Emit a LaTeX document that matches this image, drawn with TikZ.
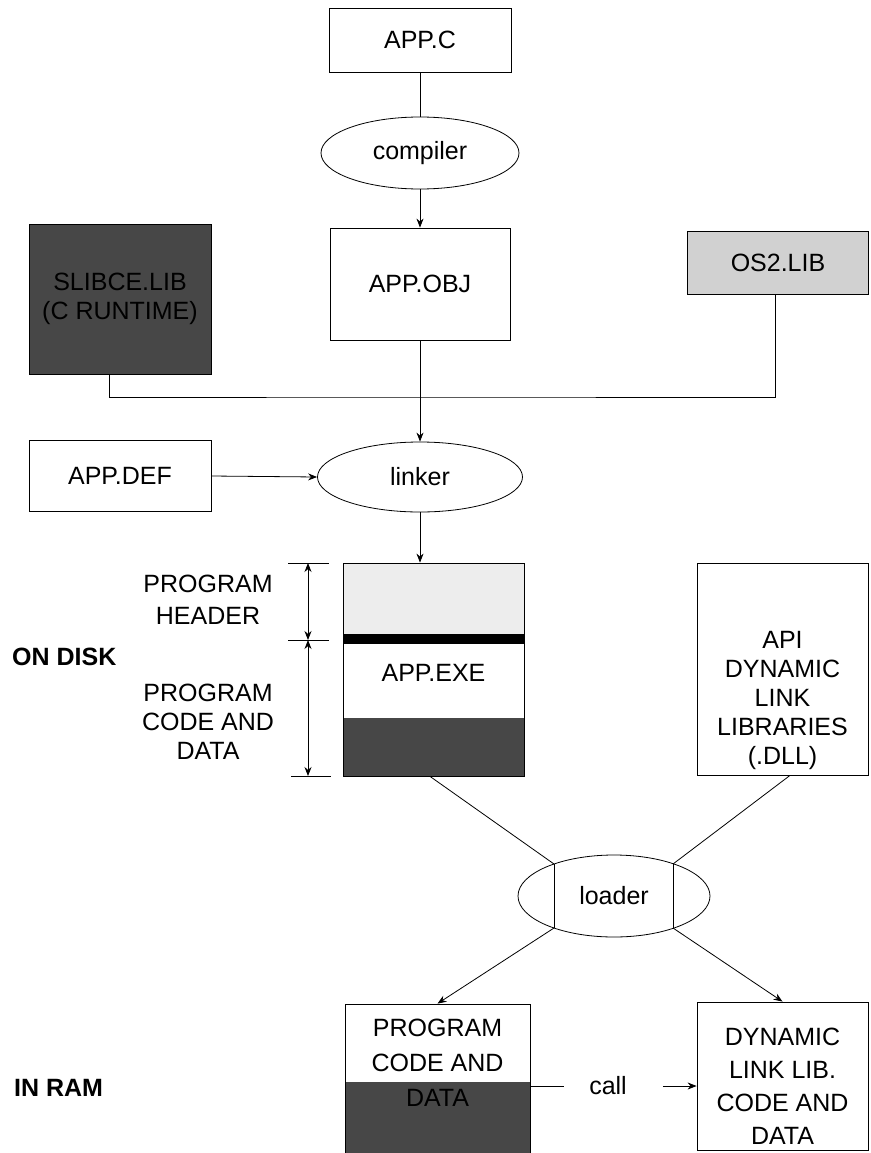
\documentclass[tikz,border=0pt]{standalone}
\usepackage{fontspec}
\setmainfont{Liberation Sans}
\usetikzlibrary{shapes.geometric,arrows.meta,calc}
\begin{document}
\begin{tikzpicture}[x=1pt,y=-1pt,
  every node/.style={font=\fontsize{25}{29}\selectfont},
  box/.style={draw,line width=0.8pt,rectangle,inner sep=0pt,align=center},
  proc/.style={draw,line width=0.8pt,ellipse,inner sep=0pt},
  conn/.style={line width=0.8pt},
  arr/.style={conn,-{Stealth[length=9pt,width=7pt]}},
  dimarr/.style={conn,{Stealth[length=9pt,width=7pt]}-{Stealth[length=9pt,width=7pt]}},
  lbl/.style={align=center,inner sep=0pt},
  side/.style={font=\fontsize{25}{29}\selectfont\bfseries,anchor=west,inner sep=0pt},
  darkfill/.style={fill=black!72},
  lightfill/.style={fill=black!18}]
\clip (0,0) rectangle (870,1153);
\fill[white] (0,0) rectangle (870,1153);

% compile stage
\node[box,minimum width=182,minimum height=64] (appc) at (420,40) {APP.C};
\node[proc,minimum width=198,minimum height=72] (compiler) at (420,153) {compiler};
\node[box,minimum width=180,minimum height=112] (appobj) at (420,284) {APP.OBJ};
\node[box,darkfill,minimum width=182,minimum height=150] (slibce) at (120,299) {SLIBCE.LIB\\(C RUNTIME)};
\node[box,lightfill,minimum width=181,minimum height=63] (os2) at (778,262.5) {OS2.LIB};

% link stage
\node[box,minimum width=182,minimum height=71] (appdef) at (120,476) {APP.DEF};
\node[proc,minimum width=205,minimum height=70] (linker) at (420,477) {linker};
\coordinate (bus) at (420,397);

% executable on disk
\fill[black!7] (343,563) rectangle (524,634);
\fill[black] (343,634) rectangle (524,644);
\fill[darkfill] (343,718) rectangle (524,776);
\node[box,minimum width=181,minimum height=213] (appexe) at (433.5,669.5) {};
\node[lbl] (exelbl) at (433.5,673) {APP.EXE};

% size markers beside the executable
\coordinate (dtop) at (308,563);
\coordinate (dmid) at (308,640);
\coordinate (dbot) at (308,776);
\draw[conn] ([xshift=-20]dtop) -- ([xshift=21]dtop);
\draw[conn] ([xshift=-20]dmid) -- ([xshift=21]dmid);
\draw[conn] ([xshift=-17]dbot) -- ([xshift=23]dbot);
\draw[dimarr] (dtop) -- (dmid);
\draw[dimarr] (dmid) -- (dbot);
\node[lbl,font=\fontsize{25}{32}\selectfont] (hdrlbl) at (208,600) {PROGRAM\\HEADER};
\node[lbl] (codelbl) at (208,722) {PROGRAM\\CODE AND\\DATA};
\node[side] (ondisk) at (12,657) {ON DISK};

% system libraries
\node[box,minimum width=171,minimum height=212] (api) at (782.5,669) {};
\node[lbl] (apilbl) at (782.5,700) {API\\DYNAMIC\\LINK\\LIBRARIES\\(.DLL)};

% loader
\node[proc,minimum width=192,minimum height=82] (loader) at (614,896) {loader};
\coordinate (lTL) at ($(loader.center)+(-60,-32)$);
\coordinate (lBL) at ($(loader.center)+(-60,32)$);
\coordinate (lTR) at ($(loader.center)+(59,-32)$);
\coordinate (lBR) at ($(loader.center)+(59,32)$);
\draw[conn] (lTL) -- (lBL);
\draw[conn] (lTR) -- (lBR);

% in memory
\fill[darkfill] (345,1082) rectangle (530,1170);
\node[box,minimum width=185,minimum height=166] (ramprog) at (437.5,1087) {};
\node[lbl,font=\fontsize{25}{35}\selectfont] (ramlbl) at (437.5,1063) {PROGRAM\\CODE AND\\DATA};
\node[box,minimum width=171,minimum height=148] (dll) at (782.5,1076) {};
\node[lbl,font=\fontsize{25}{33}\selectfont] (dlllbl) at (782.5,1086.5) {DYNAMIC\\LINK LIB.\\CODE AND\\DATA};
\node[lbl] (call) at (608,1086) {call};
\node[side] (inram) at (14,1088) {IN RAM};

% connectors
\draw[conn] (appc.south) -- (compiler.north);
\draw[arr] (compiler.south) -- (appobj.north);
\draw[conn] ([xshift=-11]slibce.south) |- (bus) -| ([xshift=-3]os2.south);
\draw[arr] (appobj.south) -- (linker.north);
\draw[arr] (appdef.east) -- (linker.west);
\draw[arr] (linker.south) -- (linker.south |- appexe.north);
\draw[conn] ([xshift=-3.5]appexe.south) -- (lTL);
\draw[conn] ([xshift=7.5]api.south) -- (lTR);
\draw[arr] (lBL) -- (ramprog.north);
\draw[arr] (lBR) -- (dll.north);
\draw[conn] (ramprog.east |- call) -- ([xshift=-25]call.west);
\draw[arr] ([xshift=36]call.east) -- (call.east -| dll.west);
\end{tikzpicture}
\end{document}
